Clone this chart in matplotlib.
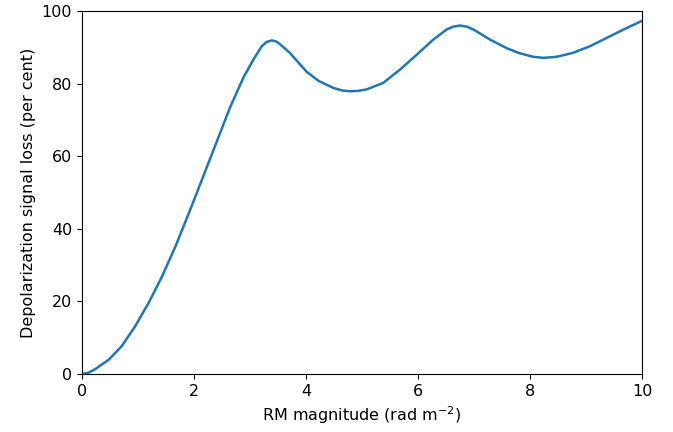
import matplotlib
matplotlib.use("Agg")
import matplotlib.pyplot as plt

rm_magnitude = [0.0, 0.12, 0.24, 0.48, 0.71, 0.95, 1.19, 1.43, 1.67, 1.90, 2.05,
                2.35, 2.64, 2.88, 3.06, 3.21, 3.30, 3.39, 3.47, 3.54, 3.71, 4.01,
                4.22, 4.49, 4.65, 4.79, 4.93, 5.08, 5.38, 5.68, 5.98, 6.27, 6.51,
                6.63, 6.75, 6.87, 6.99, 7.29, 7.58, 7.79, 8.05, 8.24, 8.48, 8.77,
                9.07, 9.37, 9.67, 10.0]
depol_loss = [0.0, 0.4, 1.4, 4.0, 7.7, 13.2, 19.6, 26.9, 35.2, 44.0, 49.9,
              61.8, 73.3, 81.6, 86.6, 90.3, 91.5, 91.9, 91.6, 90.8, 88.5, 83.3,
              80.8, 78.8, 78.1, 77.9, 78.0, 78.4, 80.2, 83.9, 88.0, 92.1, 94.9,
              95.7, 96.0, 95.7, 94.9, 92.1, 89.8, 88.5, 87.4, 87.1, 87.4, 88.5,
              90.3, 92.6, 94.9, 97.3]

fs = 11.5
fig = plt.figure(figsize=(6.73, 4.32), dpi=100)
ax = fig.add_axes([0.1218, 0.134, 0.8322, 0.8405])
ax.plot(rm_magnitude, depol_loss, color="#1f77b4", linewidth=1.8)
ax.set_xlim(0, 10)
ax.set_ylim(0, 100)
ax.set_xlabel(r"RM magnitude (rad m$^{-2}$)", fontsize=fs)
ax.set_ylabel("Depolarization signal loss (per cent)", fontsize=fs)
ax.tick_params(labelsize=fs)
fig.savefig("out.png", dpi=100)
